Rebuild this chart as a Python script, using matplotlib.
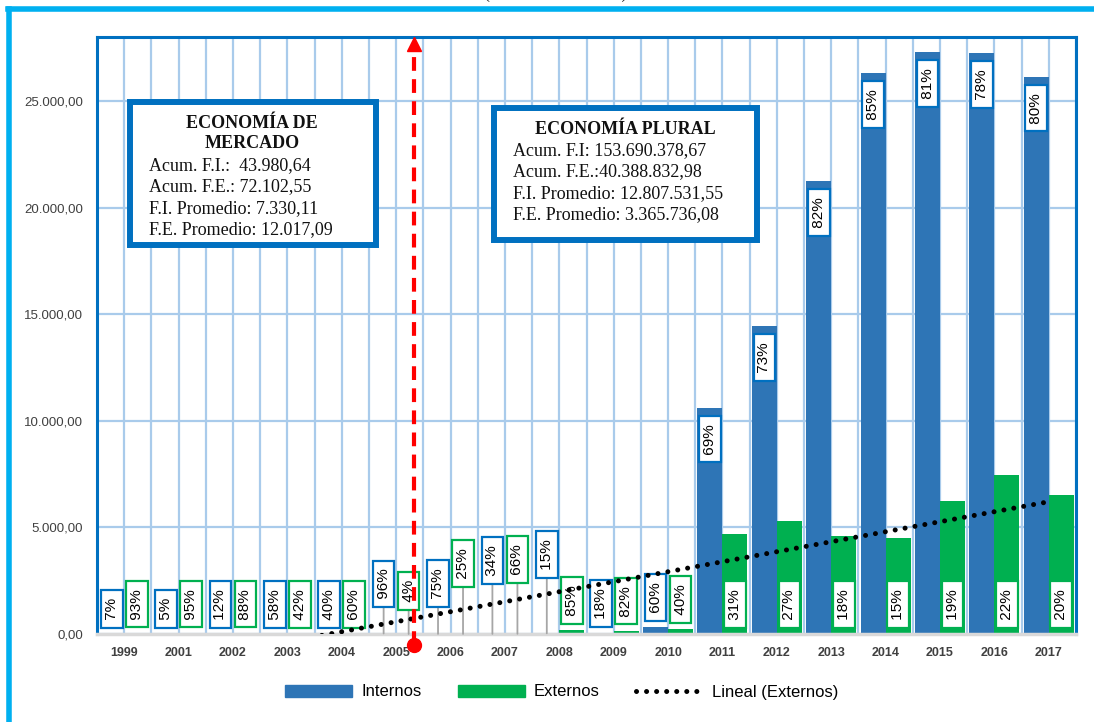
import numpy as np
import matplotlib
matplotlib.use("Agg")
import matplotlib.pyplot as plt
from matplotlib.patches import Rectangle, Patch
from matplotlib.lines import Line2D
from matplotlib.ticker import FuncFormatter, MultipleLocator

plt.rcParams['font.family'] = 'Liberation Sans'

# millones de Bs
years = ['1999', '2001', '2002', '2003', '2004', '2005', '2006', '2007', '2008',
         '2009', '2010', '2011', '2012', '2013', '2014', '2015', '2016', '2017']
internos = [1.3, 1.0, 2.1, 8.1, 8.2, 23.5, 6.0, 5.1, 32, 35, 330,
            10620, 14441, 21255, 26316, 27290, 27240, 26142]
externos = [17.5, 18.5, 15.4, 5.9, 12.3, 1.0, 2.0, 9.9, 180, 160, 220,
            4700, 5277, 4573, 4495, 6250, 7472, 6500]

mercado_lines = ['Acum. F.I.:  43.980,64', 'Acum. F.E.: 72.102,55',
                 'F.I. Promedio: 7.330,11', 'F.E. Promedio: 12.017,09']
plural_lines = ['Acum. F.I: 153.690.378,67', 'Acum. F.E.:40.388.832,98',
                'F.I. Promedio: 12.807.531,55', 'F.E. Promedio: 3.365.736,08']

# pixel lift of the label boxes above the axis (None = inside end of bar)
lift_int = [6, 6, 6, 6, 6, 26, 27, 50, 55, 6, 6] + [None] * 7
lift_ext = [6, 6, 6, 6, 6, 24, 47, 51, 6, 6, 6] + [6] * 7

BLUE = '#2E75B6'
GREEN = '#00B050'
FRAME = '#0070C0'
GRID = '#A9CBEB'

W, H = 1094, 722
fig = plt.figure(figsize=(W / 100, H / 100), dpi=100)
ax = fig.add_axes([97 / W, 88 / H, 979 / W, 597 / H])

x = np.arange(len(years))
ints = np.array(internos)
exts = np.array(externos)
tot = ints + exts
pct_int = np.round(100 * ints / tot).astype(int)
pct_ext = np.round(100 * exts / tot).astype(int)

bw = 0.46
ax.bar(x - bw / 2, ints, bw, color=BLUE, zorder=2)
ax.bar(x + bw / 2, exts, bw, color=GREEN, zorder=2)

ax.set_xlim(-0.5, len(years) - 0.5)
ax.set_ylim(0, 28000)
ax.set_xticks(x)
ax.set_xticklabels(years, fontweight='bold', fontsize=9, color='#404040')
ax.xaxis.set_minor_locator(MultipleLocator(0.5))
ax.set_yticks(np.arange(0, 25001, 5000))
ax.yaxis.set_major_formatter(FuncFormatter(
    lambda v, p: f"{v:,.2f}".replace(',', 'X').replace('.', ',').replace('X', '.')))
ax.tick_params(axis='y', labelsize=9.5, colors='#404040', length=0, pad=10)
ax.tick_params(axis='x', which='both', length=0, pad=9)
ax.grid(True, axis='x', which='both', color=GRID, lw=1.6)
ax.grid(True, axis='y', which='major', color=GRID, lw=1.6)
ax.set_axisbelow(True)
for side in ['top', 'left', 'right']:
    ax.spines[side].set_color(FRAME)
    ax.spines[side].set_linewidth(2.2)
ax.spines['bottom'].set_color('#D9D9D9')
ax.spines['bottom'].set_linewidth(2.5)

leader = dict(arrowstyle='-', color='#A6A6A6', lw=1.3, shrinkA=0, shrinkB=0)

def box(edge):
    return dict(boxstyle='square,pad=0.25', fc='white', ec=edge, lw=1.6)

# percentage labels
for i in range(len(years)):
    li = lift_int[i]
    if li is None:
        # inside end of the tall bars
        ax.annotate(f" {pct_int[i]}% ", xy=(x[i] - bw / 2, ints[i]), xytext=(0, -12),
                    textcoords='offset pixels', rotation=90, ha='center', va='top',
                    fontsize=11, bbox=box(FRAME), zorder=4)
    else:
        ax.annotate(f" {pct_int[i]}% ", xy=(x[i] - bw / 2, ints[i]), xytext=(0, li + 4),
                    textcoords='offset pixels', rotation=90, ha='center', va='bottom',
                    fontsize=11, zorder=4, bbox=box(FRAME),
                    arrowprops=leader if li > 10 else None)
    le = lift_ext[i]
    ax.annotate(f" {pct_ext[i]}% ", xy=(x[i] + bw / 2, 0 if i >= 11 else exts[i]),
                xytext=(0, le + 4), textcoords='offset pixels', rotation=90,
                ha='center', va='bottom', fontsize=11, zorder=4, bbox=box(GREEN),
                arrowprops=leader if le > 10 else None)

# linear trend of Externos
b, a = np.polyfit(x, exts, 1)
trend_style = dict(color='black', lw=3.6, linestyle=(0, (0.01, 2.0)), dash_capstyle='round')
ax.plot(x, a + b * x, zorder=5, **trend_style)

# split between the two periods
xr = 5.32
ax.plot([xr, xr], [-500, 27700], color='red', lw=3, dashes=(3.3, 2.0), zorder=6, clip_on=False)
ax.plot([xr], [27650], marker='^', ms=10, color='red', zorder=6, clip_on=False)
ax.plot([xr], [-520], marker='o', ms=10, color='red', zorder=6, clip_on=False)

# summary boxes
def info_box(x0, y0, x1, y1, title, lines, tx, ty, bx, by):
    fig.patches.append(Rectangle((x0 / W, 1 - y1 / H), (x1 - x0) / W, (y1 - y0) / H,
                                 transform=fig.transFigure, fc='white', ec=FRAME,
                                 lw=4.3, zorder=10))
    for t, yy in zip(title, ty):
        fig.text(tx / W, 1 - yy / H, t, ha='center', va='center', fontsize=13,
                 fontweight='bold', family='Liberation Serif', color='#111111', zorder=11)
    for t, yy in zip(lines, by):
        fig.text(bx / W, 1 - yy / H, t, ha='left', va='center', fontsize=13,
                 family='Liberation Serif', color='#111111', zorder=11)

info_box(130, 102, 376, 245, ['ECONOMÍA DE', 'MERCADO'], mercado_lines,
         252, [123, 144], 149, [166, 187, 209, 230])
info_box(494, 108, 757, 240, ['ECONOMÍA PLURAL'], plural_lines,
         625, [130], 513, [151, 172, 194, 215])

# outer frame
fig.add_artist(Line2D([8 / W, 1], [1 - 9 / H, 1 - 9 / H], transform=fig.transFigure,
                      color='#00B0F0', lw=4))
fig.add_artist(Line2D([9 / W, 9 / W], [0, 1 - 9 / H], transform=fig.transFigure,
                      color='#00B0F0', lw=4))
fig.text(556 / W, 1 + 7 / H, '(En millones de Bs)', ha='center', va='center',
         fontsize=13, family='Liberation Serif', color='#222222')

handles = [Patch(color=BLUE), Patch(color=GREEN), Line2D([], [], **trend_style)]
fig.legend(handles, ['Internos', 'Externos', 'Lineal (Externos)'], loc='center',
           bbox_to_anchor=(562 / W, 30 / H), ncol=3, frameon=False, fontsize=12,
           handlelength=4.0, handletextpad=0.55, columnspacing=2.2)

fig.savefig('out.png', dpi=100)
